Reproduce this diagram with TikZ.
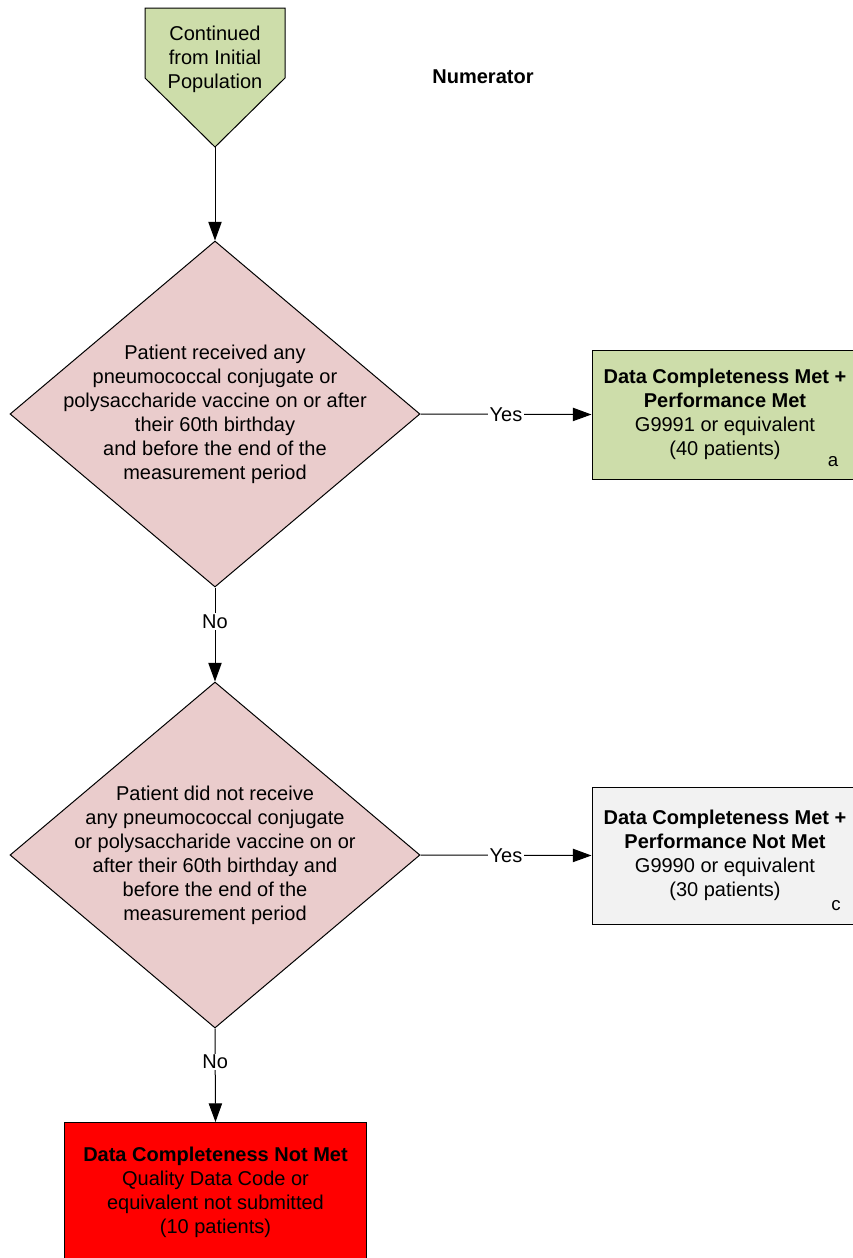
\documentclass[tikz,border=0pt]{standalone}
\usepackage{fontspec}
\setmainfont{Liberation Sans}
\usepackage{tikz}
\usetikzlibrary{arrows.meta, shapes.geometric}

\definecolor{startgreen}{RGB}{205,221,170}
\definecolor{qpink}{RGB}{234,204,204}
\definecolor{notmetgrey}{RGB}{242,242,242}

\begin{document}
\begin{tikzpicture}[->,>={Triangle[length=14pt,width=10pt]},x=0.75pt,y=-0.75pt,line width=0.75pt,
                    font=\fontsize{15}{18}\selectfont]
                \tikzset{decision/.style={diamond, draw, fill=qpink, minimum width=307.5pt, minimum height=259.5pt, inner sep=0pt},
                         qtext/.style={align=center, inner sep=0pt},
                         outcome/.style={rectangle, draw, align=center, minimum width=199.5pt, inner sep=2pt},
                         tag/.style={font=\fontsize{14}{16}\selectfont},
                         answer/.style={fill=white, inner sep=1pt}}
                \useasboundingbox (0,0) rectangle (853,1258);
                % start connector
                \draw[-, fill=startgreen] (145,8) -- (285,8) -- (285,78) -- (215,147) -- (145,78) -- cycle;
                \coordinate (tip) at (215,147);
                \node[qtext] (start) at (215,59) {Continued\\from Initial\\Population};
                \node[font=\fontsize{15}{18}\selectfont\bfseries] (title) at (483,77) {Numerator};
                % decisions
                \node[decision] (q1) at (215,414) {};
                \node[qtext] (q1t) at (q1) {Patient received any\\pneumococcal conjugate or\\polysaccharide vaccine on or after\\their 60th birthday\\and before the end of the\\measurement period};
                \node[decision] (q2) at (215,855) {};
                \node[qtext] (q2t) at (q2) {Patient did not receive\\any pneumococcal conjugate\\or polysaccharide vaccine on or\\after their 60th birthday and\\before the end of the\\measurement period};
                % outcomes
                \node[outcome, fill=startgreen, minimum height=96.75pt] (met) at (725,414.5) {\textbf{Data Completeness Met +}\\\textbf{Performance Met}\\G9991 or equivalent\\(40 patients)};
                \node[tag] (taga) at (833,462) {a};
                \node[outcome, fill=notmetgrey, minimum height=102.75pt] (notmet) at (725,855.5) {\textbf{Data Completeness Met +}\\\textbf{Performance Not Met}\\G9990 or equivalent\\(30 patients)};
                \node[tag] (tagc) at (836,906) {c};
                \node[outcome, fill=red, minimum width=226.5pt, minimum height=104.25pt] (missing) at (215.5,1192) {\textbf{Data Completeness Not Met}\\Quality Data Code or\\equivalent not submitted\\(10 patients)};
                % connectors
                \path (tip) edge (q1.north);
                \path (q1.east) edge node[answer] {Yes} (met.west);
                \path (q1.south) edge node[answer, pos=0.36] {No} (q2.north);
                \path (q2.east) edge node[answer] {Yes} (notmet.west);
                \path (q2.south) edge node[answer, pos=0.36] {No} (missing.north);
            \end{tikzpicture}
\end{document}
